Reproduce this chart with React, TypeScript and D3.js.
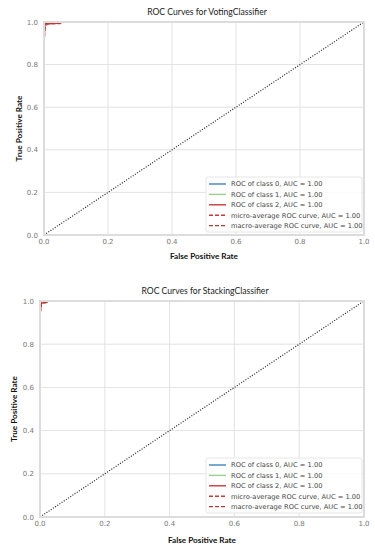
import * as d3 from "d3"

const rateTicks = [0, 0.2, 0.4, 0.6, 0.8, 1.0]
const legendLabels = [
  "ROC of class 0, AUC = 1.00",
  "ROC of class 1, AUC = 1.00",
  "ROC of class 2, AUC = 1.00",
  "micro-average ROC curve, AUC = 1.00",
  "macro-average ROC curve, AUC = 1.00",
]
const seriesColors = ["#3f84bd", "#9ad28a", "#c8383a", "#c8383a", "#b03a3a"]
const seriesDash = [null, null, null, "4,2", "4,2"]

// voting classifier curves (fpr / tpr per class, then micro, macro)
const votingFpr = [
  [0, 0, 0.002, 0.02, 1],
  [0, 0, 0.002, 0.02, 1],
  [0, 0, 0.003, 0.05, 0.056, 1],
  [0, 0, 0.002, 0.01, 0.05, 0.056, 1],
  [0, 0, 0.003, 0.05, 0.056, 1],
]
const votingTpr = [
  [0, 0.9, 0.99, 1, 1],
  [0, 0.9, 0.99, 1, 1],
  [0, 0.88, 0.992, 0.994, 1, 1],
  [0, 0.86, 0.97, 0.99, 0.993, 1, 1],
  [0, 0.88, 0.992, 0.994, 1, 1],
]

// stacking classifier curves
const stackingFpr = [
  [0, 0, 0.003, 0.02, 1],
  [0, 0, 0.003, 0.02, 1],
  [0, 0, 0.004, 0.02, 0.026, 1],
  [0, 0, 0.004, 0.02, 0.026, 1],
  [0, 0, 0.004, 0.02, 0.026, 1],
]
const stackingTpr = [
  [0, 0.95, 0.99, 1, 1],
  [0, 0.95, 0.99, 1, 1],
  [0, 0.93, 0.99, 0.994, 1, 1],
  [0, 0.93, 0.99, 0.994, 1, 1],
  [0, 0.94, 0.99, 0.994, 1, 1],
]

function RocPanel({ title, fprs, tprs, box, titleY, yLabelX, xLabelY, legendTop }) {
  const x = d3.scaleLinear().domain([0, 1]).range([box.left, box.right])
  const y = d3.scaleLinear().domain([0, 1]).range([box.bottom, box.top])
  const line = d3
    .line()
    .x((d) => x(d[0]))
    .y((d) => y(d[1]))
  const midX = (box.left + box.right) / 2
  const midY = (box.top + box.bottom) / 2
  const tickFont = "DejaVu Sans"

  return (
    <g>
      <text x={midX + 3} y={titleY} textAnchor="middle" fontFamily="Lato" fontSize={8.6} fill="#222">
        {title}
      </text>

      {/* grid */}
      {rateTicks.map((t) => (
        <g key={"g" + t}>
          <line x1={x(t)} x2={x(t)} y1={box.top} y2={box.bottom} stroke="#e3e3e3" strokeWidth={1} />
          <line x1={box.left} x2={box.right} y1={y(t)} y2={y(t)} stroke="#e3e3e3" strokeWidth={1} />
        </g>
      ))}

      {/* diagonal */}
      <path
        d={line([[0, 0], [1, 1]])}
        fill="none"
        stroke="#222"
        strokeWidth={1.2}
        strokeDasharray="1,1.6"
      />

      {/* curves */}
      {fprs.map((f, i) => (
        <path
          key={"c" + i}
          d={line(f.map((v, j) => [v, tprs[i][j]]))}
          fill="none"
          stroke={seriesColors[i]}
          strokeWidth={1.3}
          strokeDasharray={seriesDash[i] || undefined}
        />
      ))}

      {/* frame */}
      <rect
        x={box.left}
        y={box.top}
        width={box.right - box.left}
        height={box.bottom - box.top}
        fill="none"
        stroke="#dcdcdc"
        strokeWidth={2}
      />

      {/* ticks */}
      {rateTicks.map((t) => (
        <text
          key={"yt" + t}
          x={box.left - 6}
          y={y(t) + 2.5}
          textAnchor="end"
          fontFamily={tickFont}
          fontSize={7}
          fill="#777"
        >
          {t.toFixed(1)}
        </text>
      ))}
      {rateTicks.map((t) => (
        <text
          key={"xt" + t}
          x={x(t)}
          y={box.bottom + 9}
          textAnchor="middle"
          fontFamily={tickFont}
          fontSize={7}
          fill="#777"
        >
          {t.toFixed(1)}
        </text>
      ))}

      <text x={midX} y={xLabelY} textAnchor="middle" fontFamily="Lato" fontWeight="bold" fontSize={8.2} fill="#111">
        False Positive Rate
      </text>
      <text
        transform={`translate(${yLabelX},${midY}) rotate(-90)`}
        textAnchor="middle"
        fontFamily="Lato"
        fontWeight="bold"
        fontSize={8.2}
        fill="#111"
      >
        True Positive Rate
      </text>

      {/* legend */}
      <rect x={206} y={legendTop} width={156} height={55} fill="#fff" fillOpacity={0.85} stroke="#e6e6e6" rx={2} />
      {legendLabels.map((lab, i) => {
        const ly = legendTop + 7 + i * 10.4
        return (
          <g key={"l" + i}>
            <line
              x1={209}
              x2={226}
              y1={ly}
              y2={ly}
              stroke={seriesColors[i]}
              strokeWidth={1.4}
              strokeDasharray={seriesDash[i] || undefined}
            />
            <text x={231} y={ly + 2.4} fontFamily={tickFont} fontSize={6.7} fill="#444">
              {lab}
            </text>
          </g>
        )
      })}
    </g>
  )
}

export default function App() {
  return (
    <svg
      width={375}
      height={550}
      style={{ position: "absolute", left: 0, top: 0, display: "block", background: "#fff" }}
    >
      <RocPanel
        title="ROC Curves for VotingClassifier"
        fprs={votingFpr}
        tprs={votingTpr}
        box={{ left: 44, right: 364, top: 22, bottom: 235 }}
        titleY={15}
        yLabelX={22}
        xLabelY={259}
        legendTop={177}
      />
      <RocPanel
        title="ROC Curves for StackingClassifier"
        fprs={stackingFpr}
        tprs={stackingTpr}
        box={{ left: 40, right: 364, top: 301, bottom: 517 }}
        titleY={294}
        yLabelX={17}
        xLabelY={543}
        legendTop={458}
      />
    </svg>
  )
}
